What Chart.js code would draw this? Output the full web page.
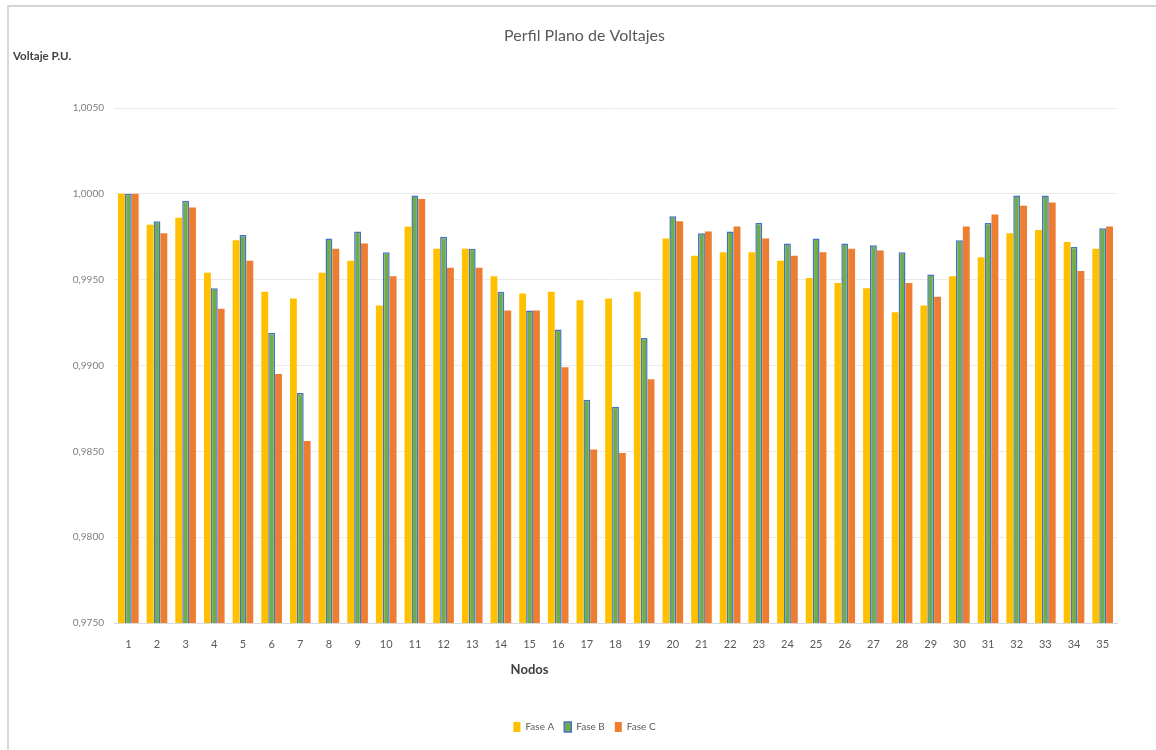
<!DOCTYPE html>
<html lang="es">
<head>
<meta charset="utf-8">
<title>Perfil Plano de Voltajes</title>
<script src="https://cdn.jsdelivr.net/npm/chart.js@4.4.1/dist/chart.umd.min.js"></script>
<style>
    html, body { margin: 0; padding: 0; background: #fff; }
    .frame {
        position: absolute;
        left: 7px;
        top: 5px;
        width: 1149px;
        height: 745px;
        border-top: 2px solid #d4d4d4;
        border-left: 2px solid #d9d9d9;
    }
</style>
</head>
<body>
<div class="frame">
    <canvas id="voltajesChart" width="1147" height="743"></canvas>
</div>
<script>
// ================================================
// DATOS - tensión por nodo (p.u.)
// ================================================

const nodos = ['1', '2', '3', '4', '5', '6', '7', '8', '9', '10',
               '11', '12', '13', '14', '15', '16', '17', '18', '19', '20',
               '21', '22', '23', '24', '25', '26', '27', '28', '29', '30',
               '31', '32', '33', '34', '35'];

const faseA = [1.0000, 0.9982, 0.9986, 0.9954, 0.9973, 0.9943, 0.9939, 0.9954, 0.9961, 0.9935,
               0.9981, 0.9968, 0.9968, 0.9952, 0.9942, 0.9943, 0.9938, 0.9939, 0.9943, 0.9974,
               0.9964, 0.9966, 0.9966, 0.9961, 0.9951, 0.9948, 0.9945, 0.9931, 0.9935, 0.9952,
               0.9963, 0.9977, 0.9979, 0.9972, 0.9968];

const faseB = [1.0000, 0.9984, 0.9996, 0.9945, 0.9976, 0.9919, 0.9884, 0.9974, 0.9978, 0.9966,
               0.9999, 0.9975, 0.9968, 0.9943, 0.9932, 0.9921, 0.9880, 0.9876, 0.9916, 0.9987,
               0.9977, 0.9978, 0.9983, 0.9971, 0.9974, 0.9971, 0.9970, 0.9966, 0.9953, 0.9973,
               0.9983, 0.9999, 0.9999, 0.9969, 0.9980];

const faseC = [1.0000, 0.9977, 0.9992, 0.9933, 0.9961, 0.9895, 0.9856, 0.9968, 0.9971, 0.9952,
               0.9997, 0.9957, 0.9957, 0.9932, 0.9932, 0.9899, 0.9851, 0.9849, 0.9892, 0.9984,
               0.9978, 0.9981, 0.9974, 0.9964, 0.9966, 0.9968, 0.9967, 0.9948, 0.9940, 0.9981,
               0.9988, 0.9993, 0.9995, 0.9955, 0.9981];

const yMin = 0.975;
const yMax = 1.005;
const yStep = 0.005;

// ================================================
// ESTILO
// ================================================

const FONT = "Lato, 'Noto Sans', sans-serif";
const GRIS_TEXTO = '#595959';
const GRIS_OSCURO = '#404040';

// Título del eje X, centrado bajo el nodo 15
const nodosTitle = {
    id: 'nodosTitle',
    afterDraw(chart) {
        const { ctx, scales } = chart;
        ctx.save();
        ctx.font = `bold 13px ${FONT}`;
        ctx.fillStyle = GRIS_OSCURO;
        ctx.textAlign = 'center';
        ctx.textBaseline = 'middle';
        ctx.fillText('Nodos', scales.x.getPixelForValue(14), scales.x.bottom - 42);
        ctx.restore();
    }
};

// ================================================
// GRÁFICO
// ================================================

document.addEventListener('DOMContentLoaded', function() {
    const ctx = document.getElementById('voltajesChart');

    new Chart(ctx, {
        type: 'bar',
        data: {
            labels: nodos,
            datasets: [
                {
                    label: 'Fase A',
                    data: faseA,
                    backgroundColor: '#FFC000',
                    borderWidth: 0
                },
                {
                    label: 'Fase B',
                    data: faseB,
                    backgroundColor: '#70AD47',
                    borderColor: '#4472C4',
                    borderWidth: 1.5
                },
                {
                    label: 'Fase C',
                    data: faseC,
                    backgroundColor: '#ED7D31',
                    borderWidth: 0
                }
            ]
        },
        options: {
            responsive: false,
            animation: false,
            layout: {
                padding: { left: 4, right: 0, top: 0, bottom: 8 }
            },
            datasets: {
                bar: {
                    categoryPercentage: 0.72,
                    barPercentage: 1.0
                }
            },
            plugins: {
                title: {
                    display: true,
                    text: 'Perfil Plano de Voltajes',
                    color: GRIS_TEXTO,
                    font: { family: FONT, size: 16, weight: 'normal' },
                    padding: { top: 19, bottom: 4 }
                },
                subtitle: {
                    display: true,
                    text: 'Voltaje P.U.',
                    align: 'start',
                    color: GRIS_OSCURO,
                    font: { family: FONT, size: 11.5, weight: 'bold' },
                    padding: { top: 0, bottom: 45 }
                },
                legend: {
                    position: 'bottom',
                    labels: {
                        color: GRIS_TEXTO,
                        font: { family: FONT, size: 10 },
                        boxWidth: 7,
                        boxHeight: 10,
                        padding: 10
                    }
                },
                tooltip: { enabled: false }
            },
            scales: {
                x: {
                    grid: { display: false, drawTicks: false },
                    border: { display: true, color: '#d9d9d9' },
                    ticks: {
                        color: GRIS_TEXTO,
                        font: { family: FONT, size: 11 },
                        padding: 15,
                        maxRotation: 0
                    },
                    afterFit(scale) {
                        scale.height = 89;
                    }
                },
                y: {
                    min: yMin,
                    max: yMax,
                    grid: { color: '#ebebeb', drawTicks: false },
                    border: { display: false },
                    ticks: {
                        stepSize: yStep,
                        color: '#7f7f7f',
                        font: { family: FONT, size: 10 },
                        padding: 10,
                        callback: function(value) {
                            return value.toFixed(4).replace('.', ',');
                        }
                    },
                    afterFit(scale) {
                        scale.width = 101;
                    }
                },
                // margen derecho vacío, deja el título y la leyenda centrados en todo el ancho
                margen: {
                    type: 'linear',
                    position: 'right',
                    grid: { display: false, drawTicks: false },
                    border: { display: false },
                    ticks: { display: false },
                    afterFit(scale) {
                        scale.width = 39;
                    }
                }
            }
        },
        plugins: [nodosTitle]
    });
});
</script>
</body>
</html>
